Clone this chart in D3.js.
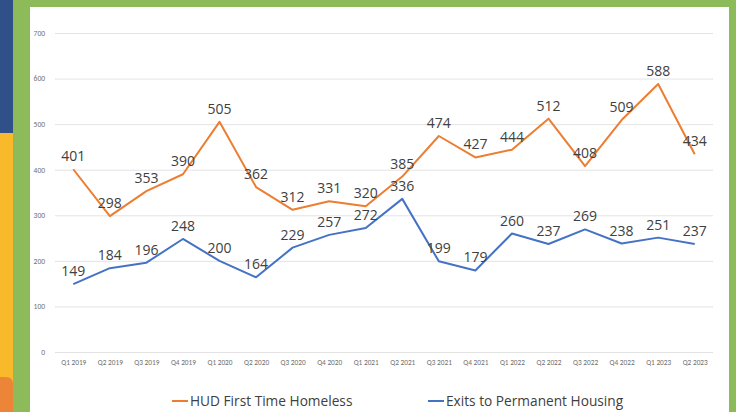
<!DOCTYPE html>
<html>
<head>
<meta charset="utf-8">
<script src="https://cdn.jsdelivr.net/npm/d3@7"></script>
<style>
body{margin:0;padding:0;overflow:hidden;background:#fff;}
</style>
</head>
<body>
<div class="box"></div>
<script>
const quarters=['Q1 2019','Q2 2019','Q3 2019','Q4 2019','Q1 2020','Q2 2020','Q3 2020','Q4 2020','Q1 2021','Q2 2021','Q3 2021','Q4 2021','Q1 2022','Q2 2022','Q3 2022','Q4 2022','Q1 2023','Q2 2023'];
const homeless=[401,298,353,390,505,362,312,331,320,385,474,427,444,512,408,509,588,434];
const exits=[149,184,196,248,200,164,229,257,272,336,199,179,260,237,269,238,251,237];
const yTicks=[0,100,200,300,400,500,600,700];
const seriesNames=['HUD First Time Homeless','Exits to Permanent Housing'];
const colors=['#ED7D31','#4472C4'];

const W=736,H=412;
const svg=d3.select('.box').append('svg').attr('width',W).attr('height',H).style('display','block');

// slide frame
svg.append('rect').attr('x',0).attr('y',0).attr('width',W).attr('height',H).attr('fill','#8DBB5A');
svg.append('rect').attr('x',0).attr('y',0).attr('width',13).attr('height',133).attr('fill','#2F5088');
svg.append('rect').attr('x',0).attr('y',133).attr('width',13).attr('height',250).attr('fill','#F8B92B');
svg.append('path').attr('d','M0,377 L6,377 Q13,377 13,384 L13,412 L0,412 Z').attr('fill','#EC8538');
svg.append('rect').attr('x',30).attr('y',7).attr('width',699).attr('height',H-7).attr('fill','#fff');

const margin={top:33,left:55,right:23,bottom:60};
const graphW=W-margin.left-margin.right;
const graphH=352-margin.top;
const g=svg.append('g').attr('transform',`translate(${margin.left},${margin.top})`);

const x=d3.scalePoint().domain(quarters).range([0,graphW]).padding(0.5);
const y=d3.scaleLinear().domain([0,700]).range([graphH,0]);

// gridlines + y labels
const axeY=d3.axisLeft(y).tickValues(yTicks).tickSize(-graphW).tickFormat(d=>d);
const gY=g.append('g').call(axeY);
gY.select('.domain').remove();
gY.selectAll('.tick line').attr('stroke','#e3e3e3').attr('stroke-width',1);
gY.selectAll('.tick text').attr('x',-10).attr('fill','#6f6f6f').style('font-family','Calibri, Carlito, "Liberation Sans", sans-serif').style('font-size','7.5px');

const axeX=d3.axisBottom(x).tickSize(0).tickPadding(8);
const gX=g.append('g').attr('transform',`translate(0,${graphH})`).call(axeX);
gX.select('.domain').remove();
gX.selectAll('.tick text').attr('fill','#6f6f6f').style('font-family','Calibri, Carlito, "Liberation Sans", sans-serif').style('font-size','7.3px');

const line=d3.line().x((d,i)=>x(quarters[i])).y(d=>y(d));
[homeless,exits].forEach((vals,k)=>{
  g.append('path').datum(vals).attr('d',line).attr('fill','none').attr('stroke',colors[k]).attr('stroke-width',2).attr('stroke-linejoin','round');
  g.selectAll('.lbl'+k).data(vals).enter().append('text')
    .attr('x',(d,i)=>x(quarters[i]))
    .attr('y',d=>y(d)-8)
    .attr('text-anchor','middle')
    .attr('fill','#404040')
    .style('font-family','"Open Sans", "DejaVu Sans", sans-serif')
    .style('font-size','14px')
    .text(d=>d);
});

// legend
const legend=svg.append('g').attr('transform','translate(0,401)');
const legX=[172,428];
seriesNames.forEach((n,k)=>{
  legend.append('line').attr('x1',legX[k]).attr('x2',legX[k]+16).attr('y1',0).attr('y2',0).attr('stroke',colors[k]).attr('stroke-width',2);
  legend.append('text').attr('x',legX[k]+18).attr('y',5).attr('fill','#404040')
    .style('font-family','"Open Sans", "DejaVu Sans", sans-serif').style('font-size','13.7px').text(n);
});
</script>
</body>
</html>
